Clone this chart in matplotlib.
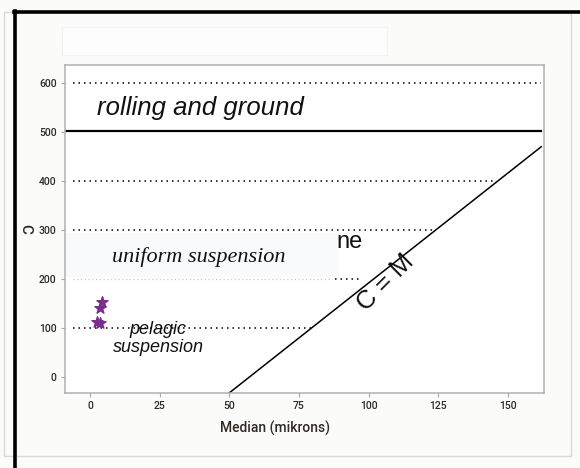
import matplotlib
matplotlib.use("Agg")
import matplotlib.pyplot as plt
from matplotlib.patches import Rectangle
from matplotlib.lines import Line2D

# data
pts_x = [4.2, 3.6, 2.4, 3.4]
pts_y = [152, 141, 112, 110]
cm_x = [49.5, 162.0]          # C = M line end points
cm_y = [-35, 470]
dotted_levels = [600, 400, 300, 100]
dotted_ends = [162, 145.5, 123.5, 79.5]
solid_level = 503
xticks = [0, 25, 50, 75, 100, 125, 150]
yticks = [0, 100, 200, 300, 400, 500, 600]

TICKFONT = ["Roboto", "DejaVu Sans"]
DOTS = (0, (1, 2.6))

fig = plt.figure(figsize=(5.8, 4.68), dpi=100)
fig.patch.set_facecolor("#fbfbf9")

# outer frame decorations (pixel -> figure fraction)
W, H = 580, 468
def fx(px): return px / W
def fy(py): return 1 - py / H
fig.add_artist(Rectangle((fx(4), fy(456)), fx(571) - fx(4), fy(12) - fy(456),
                         transform=fig.transFigure, fill=False, ec="#d8d8d8", lw=1))
fig.add_artist(Rectangle((fx(62), fy(55)), fx(387) - fx(62), fy(27) - fy(55),
                         transform=fig.transFigure, fc="#fdfdfd", ec="#f2f2f2", lw=0.8))
fig.add_artist(Line2D([fx(15), fx(15)], [fy(11), 0], transform=fig.transFigure,
                      color="black", lw=2.6))
fig.add_artist(Line2D([fx(14), 1], [fy(11.5), fy(11.5)], transform=fig.transFigure,
                      color="black", lw=2.6))

ax = fig.add_axes([65 / W, 1 - 393 / H, (544 - 65) / W, (393 - 65) / H])
ax.set_facecolor("white")
ax.set_xlim(-9, 163)
ax.set_ylim(-33, 637)

for lvl, end in zip(dotted_levels, dotted_ends):
    ax.plot([-6, end], [lvl, lvl], color="black", lw=1.1, ls=DOTS)
# faint 200 line under the label box, darker stub at the end
ax.plot([-6, 87], [200, 200], color="#c8c8c8", lw=0.9, ls=(0, (1, 2)))
ax.plot([88, 97], [200, 200], color="black", lw=1.1, ls=DOTS)
ax.plot([-9, 162], [solid_level, solid_level], color="black", lw=1.6)
ax.plot(cm_x, cm_y, color="black", lw=1.1)

ax.add_patch(Rectangle((-9, 203), 98.5, 90, fc="#f8fafc", ec="none", zorder=1.5))

ax.scatter(pts_x, pts_y, marker="*", s=70, color="#7b2d8e", zorder=3)

ax.text(2.5, 550, "rolling and ground", fontsize=18.5, style="italic",
        family="Liberation Sans", va="center", ha="left", color="#111111")
ax.text(8, 245, "uniform suspension", fontsize=16, style="italic",
        family="Liberation Serif", va="center", ha="left", color="#111111", zorder=3)
ax.text(88.5, 275, "ne", fontsize=17, family="Liberation Sans", va="center",
        ha="left", color="#111111")
ax.text(106, 193, "C = M", fontsize=18.5, family="Liberation Sans", rotation=45,
        va="center", ha="center", color="#111111")
ax.text(24.4, 78, "pelagic\nsuspension", fontsize=13, style="italic",
        family="Liberation Sans", va="center", ha="center", color="#111111",
        linespacing=1.05)

ax.set_xticks(xticks)
ax.set_yticks(yticks)
for lab in ax.get_xticklabels() + ax.get_yticklabels():
    lab.set_family(TICKFONT)
    lab.set_fontsize(7.5)
    lab.set_weight("medium")
    lab.set_color("#2f2a25")
ax.tick_params(length=3, width=0.8, color="#aaaaaa", pad=3)
for s in ax.spines.values():
    s.set_color("#b0b0b0")
    s.set_linewidth(1.1)

ax.set_xlabel("Median (mikrons)", family=TICKFONT, fontsize=10, weight="medium",
              color="#2f2a25")
ax.xaxis.set_label_coords((275 - 65) / 479, -(428 - 393) / 328)
ax.xaxis.label.set_va("center")
ax.set_ylabel("C", family=TICKFONT, fontsize=11, weight="medium", color="#2f2a25",
              rotation=270)
ax.yaxis.set_label_coords(-(65 - 25) / 479, 0.5)
ax.yaxis.label.set_va("center")

fig.savefig("out.png", dpi=100, facecolor=fig.get_facecolor())
